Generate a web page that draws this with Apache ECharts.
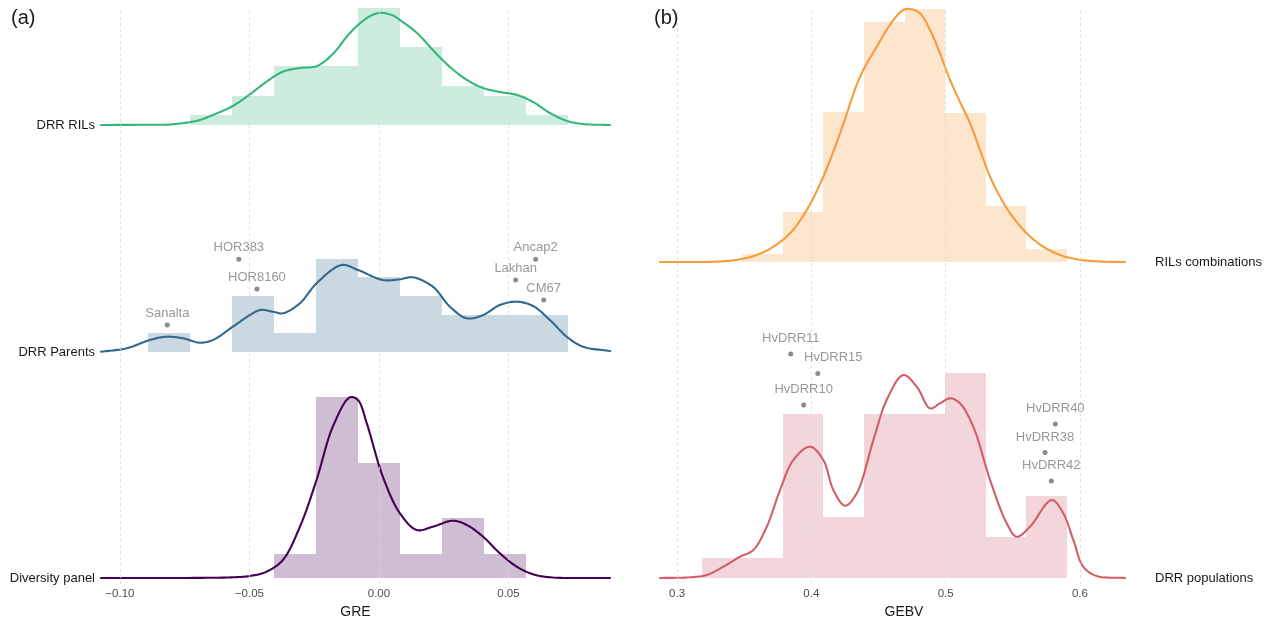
<!DOCTYPE html>
<html><head><meta charset="utf-8">
<script src="https://cdn.jsdelivr.net/npm/echarts@6/dist/echarts.min.js"></script>
<style>html,body{margin:0;padding:0;background:#fff}#c{width:1270px;height:619px}</style>
</head><body><div id="c"></div>
<script>
// ---------------- DATA ----------------
// Panel (a): GRE
const GRE_TICKS = [-0.10, -0.05, 0.00, 0.05];
const GRE_GROUPS = ['Diversity panel', 'DRR Parents', 'DRR RILs'];
const GRE_BIN_EDGE0 = -0.0891;
const GRE_BIN_W = 0.0162;
// histogram counts per bin
const hist_diversity = [0, 0, 0, 4, 30, 19, 4, 10, 4, 0];
const hist_parents   = [1, 0, 3, 1, 5, 4, 3, 2, 2, 2];
const hist_rils      = [0, 1, 3, 6, 6, 12, 8, 4, 3, 1];
// density curves (x, density)
const dens_rils_x = [-0.1073,-0.0884,-0.0807,-0.0726,-0.0691,-0.0641,-0.0564,-0.0498,-0.0434,-0.0371,-0.0305,-0.0239,-0.0178,-0.0112,-0.0046,0.0000,0.0050,0.0081,0.0147,0.0208,0.0274,0.0340,0.0402,0.0467,0.0533,0.0595,0.0660,0.0726,0.0788,0.0892];
const dens_rils_y = [0,0.04,0.07,0.43,0.72,1.44,2.73,4.42,6.23,7.67,8.20,8.49,10.22,13.24,15.40,16.12,15.83,15.11,13.24,10.79,8.35,6.47,5.32,4.75,4.32,3.31,1.73,0.58,0.14,0];
const dens_parents_x = [-0.1073,-0.0974,-0.0884,-0.0820,-0.0757,-0.0691,-0.0641,-0.0564,-0.0498,-0.0459,-0.0409,-0.0371,-0.0305,-0.0241,-0.0144,-0.0081,0.0015,0.0081,0.0131,0.0208,0.0274,0.0339,0.0402,0.0467,0.0532,0.0595,0.0660,0.0725,0.0788,0.0892];
const dens_parents_y = [0.04,0.53,1.73,2.20,1.97,1.34,1.73,3.64,5.32,6.04,5.80,5.57,7.01,9.88,12.52,11.80,10.36,10.46,10.75,9.40,6.52,4.85,5.32,6.76,7.24,6.62,4.60,2.20,0.76,0.14];
const dens_diversity_x = [-0.1073,-0.0691,-0.0564,-0.0498,-0.0434,-0.0371,-0.0305,-0.0241,-0.0178,-0.0112,-0.0081,-0.0047,0.0015,0.0081,0.0146,0.0208,0.0286,0.0339,0.0402,0.0467,0.0532,0.0595,0.0660,0.0892];
const dens_diversity_y = [0,0.02,0.10,0.29,0.91,2.59,7.38,14.10,21.77,26.00,25.60,22.26,14.58,9.31,6.91,7.38,8.24,7.63,5.94,3.55,1.63,0.53,0.10,0];
// labelled parents (GRE, height above ridge baseline)
const parents_names = ['Sanalta','HOR383','HOR8160','Ancap2','Lakhan','CM67'];
const parents_gre   = [-0.0817,-0.0541,-0.0471,0.0605,0.0528,0.0636];
const parents_h     = [3.88,13.34,9.06,13.34,10.36,7.48];

// Panel (b): GEBV
const GEBV_TICKS = [0.3, 0.4, 0.5, 0.6];
const GEBV_GROUPS = ['DRR populations', 'RILs combinations'];
const GEBV_BIN_EDGE0 = 0.3184;
const GEBV_BIN_W = 0.0302;
const hist_populations  = [1, 1, 8, 3, 8, 8, 10, 2, 4];
const hist_combinations = [0, 0.9, 5.5, 16.4, 26.2, 27.6, 16.3, 6.1, 1.4]; // percent
const dens_comb_x = [0.2873,0.3320,0.3469,0.3593,0.3717,0.3841,0.3966,0.4089,0.4214,0.4363,0.4487,0.4611,0.4685,0.4735,0.4809,0.4884,0.4958,0.5033,0.5107,0.5182,0.5256,0.5331,0.5405,0.5480,0.5604,0.5727,0.5852,0.5976,0.6150,0.6336];
const dens_comb_y = [0,0.018,0.097,0.252,0.550,1.032,1.871,3.068,4.629,6.665,7.745,8.705,9.065,9.101,8.946,8.345,7.507,6.547,5.755,4.989,4.029,3.068,2.349,1.752,1.032,0.550,0.252,0.097,0.018,0];
const dens_pop_x = [0.2873,0.3097,0.3221,0.3345,0.3469,0.3568,0.3668,0.3767,0.3866,0.3990,0.4089,0.4164,0.4251,0.4338,0.4462,0.4561,0.4685,0.4785,0.4884,0.4958,0.5033,0.5107,0.5206,0.5331,0.5455,0.5529,0.5628,0.5790,0.5876,0.5951,0.6025,0.6125,0.6336];
const dens_pop_y = [0,0.025,0.108,0.406,0.766,1.007,1.845,3.165,4.245,4.723,4.245,3.165,2.600,3.047,4.964,6.403,7.302,6.881,6.104,6.284,6.464,6.284,5.442,3.525,1.968,1.486,1.845,2.806,2.327,1.367,0.406,0.072,0];
const pop_names = ['HvDRR11','HvDRR15','HvDRR10','HvDRR40','HvDRR38','HvDRR42'];
const pop_gebv  = [0.3847,0.4048,0.3943,0.5817,0.5740,0.5787];
const pop_h     = [8.06,7.36,6.22,5.54,4.51,3.49];

// ---------------- LAYOUT / STYLE ----------------
const FONT = '"Liberation Sans", Arial, Helvetica, sans-serif';
const PA = {left:101, right:610, top:8, bottom:584, xMin:-0.1073, xMax:0.0892, pxPerUnit:6.95, base:[578,352,125]};
const PB = {left:660, right:1148, top:8, bottom:584, xMin:0.2873, xMax:0.6507, pxPerUnit:27.8, base:[578,262]};
function yr(P){ const b0=P.base[0]; return {min:-(P.bottom-b0)/P.pxPerUnit, max:(b0-P.top)/P.pxPerUnit, offs:P.base.map(b=>(b0-b)/P.pxPerUnit)}; }
const YA = yr(PA), YB = yr(PB);

const COL = {
  diversity:{line:'#440154', fill:'rgba(68,1,84,0.26)'},
  parents:{line:'#31688E', fill:'rgba(49,104,142,0.26)'},
  rils:{line:'#35B779', fill:'rgba(53,183,121,0.25)'},
  pop:{line:'#CF5F6B', fill:'rgba(207,95,107,0.26)'},
  comb:{line:'#F89C3A', fill:'rgba(248,156,58,0.25)'}
};
const LABEL_NUDGE = {HvDRR15:[15.5,-15.6]};

function histSeries(g, counts, edge0, w, off, color){
  const n = counts.reduce((a,b)=>a+b,0);
  const data = [];
  counts.forEach((c,i)=>{ if(c>0) data.push([edge0+i*w, edge0+(i+1)*w, off + c/(n*w), off]); });
  return {type:'custom', xAxisIndex:g, yAxisIndex:g, z:1, silent:true, data,
    encode:{x:[0,1], y:[2,3]},
    renderItem:(params, api)=>{
      const p0 = api.coord([api.value(0), api.value(2)]);
      const p1 = api.coord([api.value(1), api.value(3)]);
      const x0=Math.round(p0[0]), x1=Math.round(p1[0]), y0=Math.round(p0[1]), y1=Math.round(p1[1]);
      return {type:'rect', shape:{x:x0, y:y0, width:x1-x0, height:y1-y0}, style:{fill:color}};
    }};
}
// centripetal Catmull-Rom through the projected points (rendering only)
function crSegment(p0,p1,p2,p3,n,out){
  const d=(a,b)=>Math.max(Math.sqrt(Math.hypot(b[0]-a[0],b[1]-a[1])),1e-4);
  const t0=0,t1=t0+d(p0,p1),t2=t1+d(p1,p2),t3=t2+d(p2,p3);
  for(let j=1;j<=n;j++){
    const t=t1+(t2-t1)*j/n;
    const L=(a,b,ta,tb)=>[((tb-t)*a[0]+(t-ta)*b[0])/(tb-ta), ((tb-t)*a[1]+(t-ta)*b[1])/(tb-ta)];
    const A1=L(p0,p1,t0,t1), A2=L(p1,p2,t1,t2), A3=L(p2,p3,t2,t3);
    const B1=L(A1,A2,t0,t2), B2=L(A2,A3,t1,t3);
    out.push(L(B1,B2,t1,t2));
  }
}
function densSeries(g, xs, ys, off, color){
  const pts = xs.map((x,i)=>[x, off+ys[i]]);
  return {type:'custom', xAxisIndex:g, yAxisIndex:g, z:3, silent:true, data:pts, encode:{x:0, y:1},
    renderItem:(params, api)=>{
      if (params.dataIndex !== 0) return null;
      const P = pts.map(p=>api.coord(p));
      const m = P.length;
      const ext = (a,b)=>[2*a[0]-b[0], 2*a[1]-b[1]];
      const out=[P[0]];
      for(let i=0;i<m-1;i++){
        const p0 = i>0 ? P[i-1] : ext(P[0],P[1]);
        const p3 = i+2<m ? P[i+2] : ext(P[m-1],P[m-2]);
        crSegment(p0,P[i],P[i+1],p3,14,out);
      }
      return {type:'polyline', shape:{points:out}, style:{stroke:color, lineWidth:2.1, fill:null, lineJoin:'round', lineCap:'round'}};
    }};
}
function labelSeries(g, names, xs, hs, off, dy){
  return {type:'scatter', xAxisIndex:g, yAxisIndex:g, z:5, silent:true, symbolSize:5,
    itemStyle:{color:'#6E6E6E'},
    label:{show:true, position:'inside', formatter:'{b}', color:'#7D7D7D', fontSize:13, fontFamily:FONT, offset:[0,dy]},
    data: names.map((nm,i)=>{
      const it = {name:nm, value:[xs[i], off+hs[i]]};
      if (LABEL_NUDGE[nm]) it.label = {offset:LABEL_NUDGE[nm]};
      return it;
    })};
}
function gridSeries(g, ticks, ymin){
  return {type:'line', xAxisIndex:g, yAxisIndex:g, z:0, silent:true, symbol:'none',
    data:[[ticks[0], ymin]], lineStyle:{width:0},
    markLine:{silent:true, symbol:'none', label:{show:false}, animation:false,
      lineStyle:{type:[3,3], color:'#D9D9D9', width:0.8},
      data: ticks.map(v=>({xAxis:v}))}};
}
function fmtTick(d){ return v => (v<0?'\u2212':'') + Math.abs(v).toFixed(d); }
function nearestName(offs, names){ return v => { let bi=0; offs.forEach((o,i)=>{ if(Math.abs(o-v)<Math.abs(offs[bi]-v)) bi=i; }); return names[bi]; }; }

const chart = echarts.init(document.getElementById('c'), null, {renderer:'canvas'});
chart.setOption({
  animation:false,
  backgroundColor:'#ffffff',
  textStyle:{fontFamily:FONT},
  title:[
    {text:'(a)', left:11, top:8, padding:0, textStyle:{fontSize:20, fontWeight:'normal', color:'#1A1A1A', fontFamily:FONT}},
    {text:'(b)', left:654, top:8, padding:0, textStyle:{fontSize:20, fontWeight:'normal', color:'#1A1A1A', fontFamily:FONT}}
  ],
  grid:[
    {left:PA.left, top:PA.top, width:PA.right-PA.left, height:PA.bottom-PA.top, containLabel:false, outerBoundsMode:'none'},
    {left:PB.left, top:PB.top, width:PB.right-PB.left, height:PB.bottom-PB.top, containLabel:false, outerBoundsMode:'none'}
  ],
  xAxis:[
    {gridIndex:0, type:'value', min:PA.xMin, max:PA.xMax,
     axisLine:{show:false}, axisTick:{show:false}, splitLine:{show:false},
     axisLabel:{customValues:GRE_TICKS, formatter:fmtTick(2), fontSize:11.5, color:'#4D4D4D', margin:4, fontFamily:FONT},
     name:'GRE', nameLocation:'middle', nameGap:19, nameTextStyle:{fontSize:14, color:'#1A1A1A', fontFamily:FONT}},
    {gridIndex:1, type:'value', min:PB.xMin, max:PB.xMax,
     axisLine:{show:false}, axisTick:{show:false}, splitLine:{show:false},
     axisLabel:{customValues:GEBV_TICKS, formatter:fmtTick(1), fontSize:11.5, color:'#4D4D4D', margin:4, fontFamily:FONT},
     name:'GEBV', nameLocation:'middle', nameGap:19, nameTextStyle:{fontSize:14, color:'#1A1A1A', fontFamily:FONT}}
  ],
  yAxis:[
    {gridIndex:0, type:'value', min:YA.min, max:YA.max,
     axisLine:{show:false}, axisTick:{show:false}, splitLine:{show:false},
     axisLabel:{customValues:YA.offs, formatter:nearestName(YA.offs, GRE_GROUPS), fontSize:13, color:'#1A1A1A', margin:6, fontFamily:FONT}},
    {gridIndex:1, type:'value', position:'right', min:YB.min, max:YB.max,
     axisLine:{show:false}, axisTick:{show:false}, splitLine:{show:false},
     axisLabel:{customValues:YB.offs, formatter:nearestName(YB.offs, GEBV_GROUPS), fontSize:13, color:'#1A1A1A', margin:7, fontFamily:FONT}}
  ],
  series:[
    gridSeries(0, GRE_TICKS, YA.min),
    gridSeries(1, GEBV_TICKS, YB.min),
    histSeries(0, hist_diversity, GRE_BIN_EDGE0, GRE_BIN_W, YA.offs[0], COL.diversity.fill),
    histSeries(0, hist_parents,   GRE_BIN_EDGE0, GRE_BIN_W, YA.offs[1], COL.parents.fill),
    histSeries(0, hist_rils,      GRE_BIN_EDGE0, GRE_BIN_W, YA.offs[2], COL.rils.fill),
    histSeries(1, hist_populations,  GEBV_BIN_EDGE0, GEBV_BIN_W, YB.offs[0], COL.pop.fill),
    histSeries(1, hist_combinations, GEBV_BIN_EDGE0, GEBV_BIN_W, YB.offs[1], COL.comb.fill),
    densSeries(0, dens_diversity_x, dens_diversity_y, YA.offs[0], COL.diversity.line),
    densSeries(0, dens_parents_x, dens_parents_y, YA.offs[1], COL.parents.line),
    densSeries(0, dens_rils_x, dens_rils_y, YA.offs[2], COL.rils.line),
    densSeries(1, dens_pop_x, dens_pop_y, YB.offs[0], COL.pop.line),
    densSeries(1, dens_comb_x, dens_comb_y, YB.offs[1], COL.comb.line),
    labelSeries(0, parents_names, parents_gre, parents_h, YA.offs[1], -11.5),
    labelSeries(1, pop_names, pop_gebv, pop_h, YB.offs[0], -15.6)
  ]
});
</script>
</body></html>
